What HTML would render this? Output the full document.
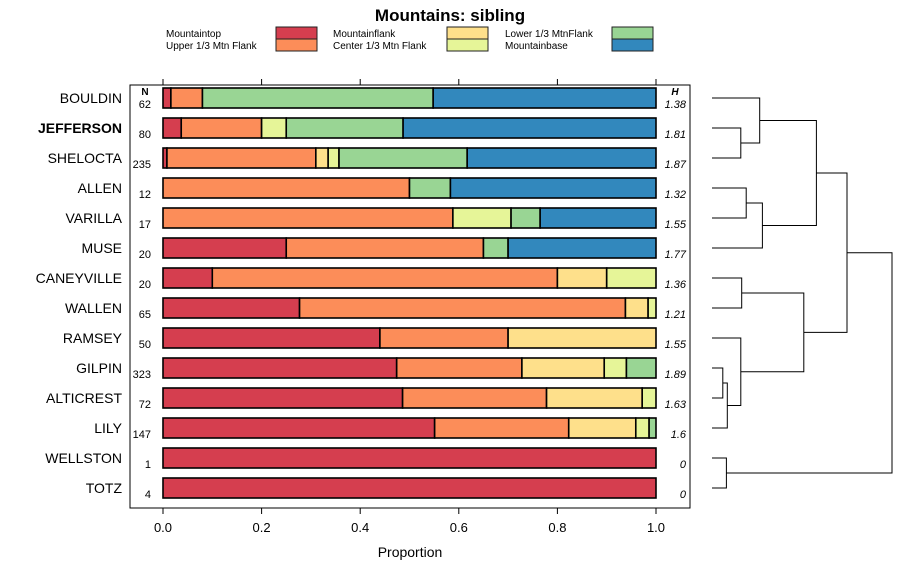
<!DOCTYPE html>
<html><head><meta charset="utf-8"><style>
body{margin:0;background:#fff;}
svg{font-family:"Liberation Sans",Arial,sans-serif;display:block}
</style></head><body>
<svg id="chart" width="900" height="580" viewBox="0 0 900 580" xmlns="http://www.w3.org/2000/svg">
<text x="450" y="21" text-anchor="middle" font-size="17" font-weight="bold">Mountains: sibling</text>
<g id="legend"></g>
<rect x="130" y="85" width="560" height="423" fill="none" stroke="#000" stroke-width="1"/>
<g id="bars"></g>
<g id="axis"></g>
<g id="dendro"></g>
<text x="145" y="95" text-anchor="middle" font-size="10" font-weight="bold">N</text>
<text x="675" y="95" text-anchor="middle" font-size="10" font-weight="bold" font-style="italic">H</text>
<text x="410" y="557" text-anchor="middle" font-size="14">Proportion</text>
</svg>
<script>
const categories = ["Mountaintop","Upper 1/3 Mtn Flank","Mountainflank","Center 1/3 Mtn Flank","Lower 1/3 MtnFlank","Mountainbase"];
const colors = ["#d53e4f","#fc8d59","#fee08b","#e6f598","#99d594","#3288bd"];
const series = ["BOULDIN","JEFFERSON","SHELOCTA","ALLEN","VARILLA","MUSE","CANEYVILLE","WALLEN","RAMSEY","GILPIN","ALTICREST","LILY","WELLSTON","TOTZ"];
const nValues = [62,80,235,12,17,20,20,65,50,323,72,147,1,4];
const hValues = ["1.38","1.81","1.87","1.32","1.55","1.77","1.36","1.21","1.55","1.89","1.63","1.6","0","0"];
const mountaintop = [0.016,0.037,0.008,0,0,0.25,0.1,0.277,0.44,0.474,0.486,0.551,1,1];
const upperFlank  = [0.064,0.163,0.302,0.5,0.588,0.4,0.7,0.661,0.26,0.254,0.292,0.272,0,0];
const mtnFlank    = [0,0,0.025,0,0,0,0.1,0.046,0.30,0.167,0.194,0.136,0,0];
const centerFlank = [0,0.05,0.022,0,0.118,0,0.1,0.016,0,0.045,0.028,0.027,0,0];
const lowerFlank  = [0.468,0.237,0.26,0.083,0.059,0.05,0,0,0,0.06,0,0.014,0,0];
const mtnBase     = [0.452,0.513,0.383,0.417,0.235,0.3,0,0,0,0,0,0,0,0];
const xTicks = [0,0.2,0.4,0.6,0.8,1.0];
const xTickLabels = ["0.0","0.2","0.4","0.6","0.8","1.0"];
// dendrogram merges: [leftNode, rightNode, height]; leaves are 0..13, merges numbered 14+
const merges = [[1,2,0.32],[0,14,0.53],[3,4,0.38],[16,5,0.56],[15,17,1.16],[6,7,0.33],[9,10,0.12],[20,11,0.17],[8,21,0.32],[19,22,1.02],[18,23,1.50],[12,13,0.16],[24,25,2.0]];

const NS="http://www.w3.org/2000/svg";
function mk(tag,attrs,parent,text){const e=document.createElementNS(NS,tag);for(const k in attrs)e.setAttribute(k,attrs[k]);if(text!==undefined)e.textContent=text;parent.appendChild(e);return e;}
const xs = v => 163 + v*493;
const ys = i => 98 + i*30;
const dx = h => 712 + h*(892-712)/2.0;
const data=[mountaintop,upperFlank,mtnFlank,centerFlank,lowerFlank,mtnBase];

const lg=document.getElementById('legend');
const lpos=[[166,276,33],[166,276,45],[333,447,33],[333,447,45],[505,612,33],[505,612,45]];
categories.forEach((c,k)=>{
  const p=lpos[k];
  const t=mk('text',{x:p[0],y:p[2]+4,'font-size':10},lg,c);
  
  
  const r=mk('rect',{x:p[1],y:p[2]-6,width:41,height:12,fill:colors[k],stroke:'#222','stroke-width':1},lg);
  
  
});

const bg=document.getElementById('bars');
series.forEach((s,i)=>{
  const y=ys(i);
  const lab=mk('text',{x:122,y:y+5,'text-anchor':'end','font-size':14,'font-weight':s==='JEFFERSON'?'bold':'normal'},bg,s);
  
  
  const nt=mk('text',{x:151,y:y+10,'text-anchor':'end','font-size':11},bg,String(nValues[i]));
  
  
  const ht=mk('text',{x:686,y:y+10,'text-anchor':'end','font-size':11,'font-style':'italic'},bg,hValues[i]);
  
  
  let cum=0;
  data.forEach((arr,k)=>{
    const v=arr[i]; if(v<=0)return;
    const r=mk('rect',{x:xs(cum),y:y-10,width:xs(cum+v)-xs(cum),height:20,fill:colors[k],stroke:'#000','stroke-width':1.6},bg);
    
    
    cum+=v;
  });
});

const ag=document.getElementById('axis');
xTicks.forEach((t,k)=>{
  const l1=mk('line',{x1:xs(t),x2:xs(t),y1:508,y2:514,stroke:'#000'},ag);
  
  
  const l2=mk('line',{x1:xs(t),x2:xs(t),y1:85,y2:79,stroke:'#000'},ag);
  
  
  const tl=mk('text',{x:xs(t),y:532,'text-anchor':'middle','font-size':13},ag,xTickLabels[k]);
  
  
});

const dg=document.getElementById('dendro');
const nodes=series.map((s,i)=>({y:ys(i),h:0}));
merges.forEach(m=>{
  const a=nodes[m[0]],b=nodes[m[1]],X=dx(m[2]);
  const p=mk('path',{d:`M${dx(a.h)},${a.y}H${X}V${b.y}H${dx(b.h)}`,fill:'none',stroke:'#000','stroke-width':1},dg);
  
  
  nodes.push({y:(a.y+b.y)/2,h:m[2]});
});
</script>
</body></html>
